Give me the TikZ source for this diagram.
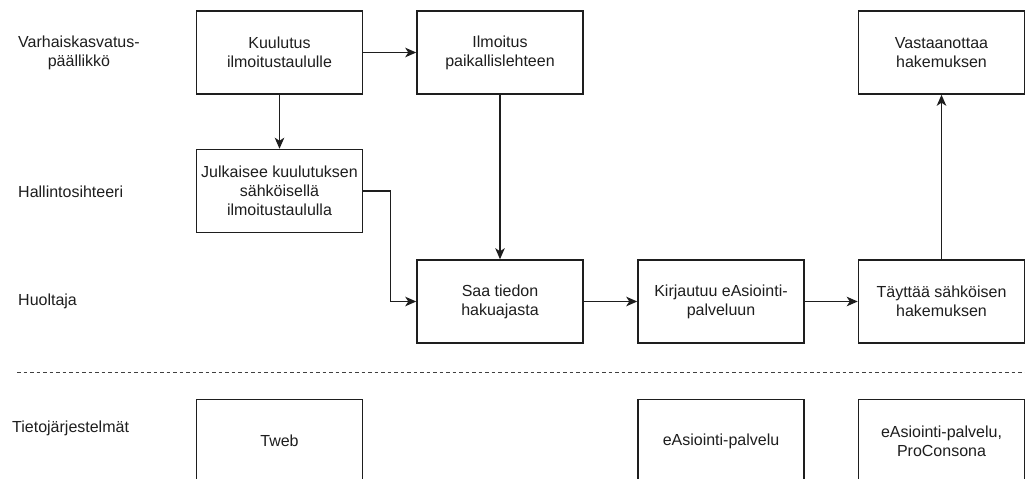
\documentclass[tikz,border=0pt]{standalone}
\usepackage{fontspec}
\setmainfont{Liberation Sans}
\usetikzlibrary{arrows.meta}
\definecolor{ink}{HTML}{1E1E1E}
\tikzset{
  stepbox/.style={draw=ink, line width=1.5pt, fill=white, minimum width=166pt, minimum height=83pt,
    inner sep=1pt, align=center, text=ink, font=\fontsize{16}{19}\selectfont},
  lanelabel/.style={anchor=west, align=center, text=ink, inner sep=0pt, font=\fontsize{16}{19}\selectfont},
  flow/.style={draw=ink, line width=1.5pt, -{Stealth[length=11pt,width=9.5pt,inset=3pt]}},
}
\begin{document}
\begin{tikzpicture}[x=1pt,y=-1pt]
\clip (0,0) rectangle (1025,479);
\fill[white] (0,0) rectangle (1025,479);

% lane labels
\node[lanelabel] (lvkp) at (18,53) {Varhaiskasvatus-\\päällikkö};
\node[lanelabel] (lhs) at (18,192) {Hallintosihteeri};
\node[lanelabel] (lhu) at (18,301) {Huoltaja};
\node[lanelabel] (ltj) at (12,428) {Tietojärjestelmät};

% process steps
\node[stepbox] (kuul) at (279.5,52.5) {Kuulutus\\ilmoitustaululle};
\node[stepbox] (ilm) at (500,52.5) {Ilmoitus\\paikallislehteen};
\node[stepbox] (vast) at (941.5,52.5) {Vastaanottaa\\hakemuksen};
\node[stepbox] (julk) at (279.5,191) {Julkaisee kuulutuksen\\sähköisellä\\ilmoitustaululla};
\node[stepbox] (saa) at (500,301.5) {Saa tiedon\\hakuajasta};
\node[stepbox] (kirj) at (721,301.5) {Kirjautuu eAsiointi-\\palveluun};
\node[stepbox] (tayt) at (941.5,301.5) {Täyttää sähköisen\\hakemuksen};

% lane separator
\coordinate (sepL) at (17,372.5);
\coordinate (sepR) at (1025,372.5);
\draw[ink!85, line width=1pt, dash pattern=on 3.5pt off 3pt] (sepL) -- (sepR);

% information systems
\node[stepbox] (tweb) at (279.5,441) {Tweb};
\node[stepbox] (easi) at (721,441) {eAsiointi-palvelu};
\node[stepbox] (epro) at (941.5,441) {eAsiointi-palvelu,\\ProConsona};

% connectors
\draw[flow] (kuul) -- (ilm);
\draw[flow] (kuul) -- (julk);
\draw[flow] (ilm) -- (saa);
\draw[flow] (julk.east) -- ++(27,0) |- (saa.west);
\draw[flow] (saa) -- (kirj);
\draw[flow] (kirj) -- (tayt);
\draw[flow] (tayt) -- (vast);
\end{tikzpicture}
\end{document}
